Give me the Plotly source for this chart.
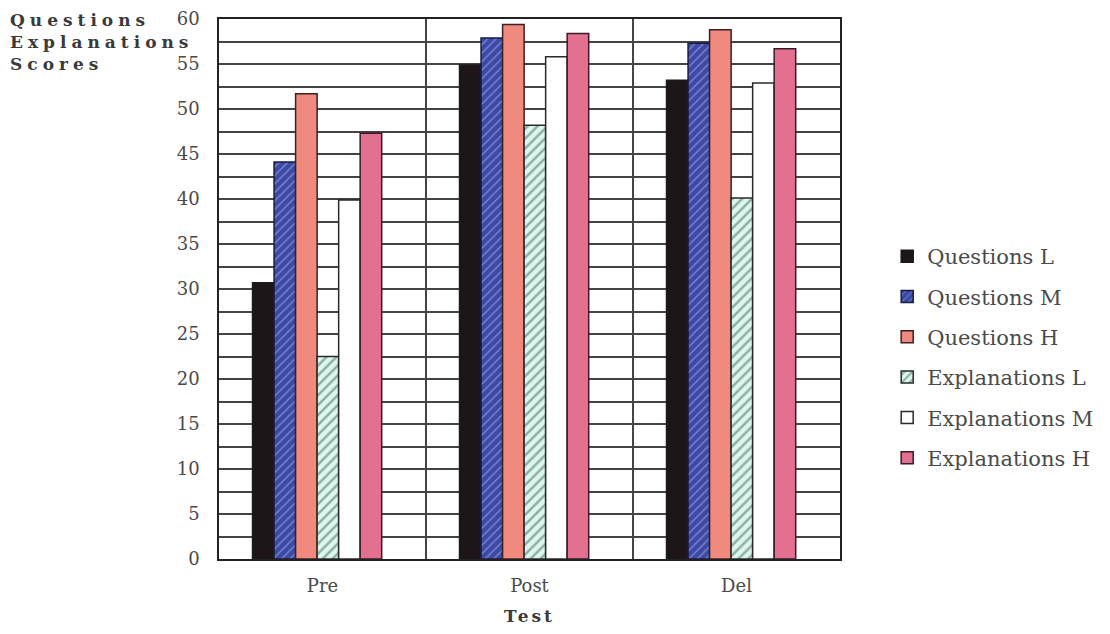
import plotly.graph_objects as go

categories = ["Pre", "Post", "Del"]
series_names = ["Questions L", "Questions M", "Questions H",
                "Explanations L", "Explanations M", "Explanations H"]
questions_l = [30.7, 54.9, 53.2]
questions_m = [44.1, 57.9, 57.3]
questions_h = [51.7, 59.4, 58.8]
explanations_l = [22.5, 48.2, 40.1]
explanations_m = [39.9, 55.8, 52.9]
explanations_h = [47.3, 58.4, 56.7]
y_ticks = [0, 5, 10, 15, 20, 25, 30, 35, 40, 45, 50, 55, 60]

values = [questions_l, questions_m, questions_h,
          explanations_l, explanations_m, explanations_h]
colors = ["#1c1618", "#3c4aa6", "#f08a7e", "#dff6ef", "#ffffff", "#e2708e"]
patterns = [
    dict(shape=""),
    dict(shape="/", fgcolor="#c8d0ff", size=6, solidity=0.2),
    dict(shape=""),
    dict(shape="/", fgcolor="#2f6a58", size=7, solidity=0.35),
    dict(shape=""),
    dict(shape=""),
]
outline = ["#1a1a1a", "#1a1a40", "#3a2020", "#2a2a2a", "#2a2a2a", "#3a1a28"]

BAR_W = 0.104          # width of each bar (category units)
GROUP_START = -0.338   # left edge of the group relative to the category centre

FONT = "DejaVu Serif"
TXT = "#4a4a4a"
fig = go.Figure()
for i, name in enumerate(series_names):
    fig.add_trace(go.Bar(
        x=categories, y=values[i], name=name,
        width=BAR_W, offset=GROUP_START + i * BAR_W,
        marker=dict(color=colors[i], pattern=patterns[i],
                    line=dict(color=outline[i], width=1.5)),
        legendgroup=name,
    ))

fig.update_layout(
    width=1094, height=618,
    margin=dict(l=211, r=262, t=11, b=67, autoexpand=False),
    paper_bgcolor="white", plot_bgcolor="white",
    barmode="overlay",
    font=dict(family=FONT, size=18, color=TXT),
    showlegend=True,
    legend=dict(x=1.076, y=0.374, xanchor="left", yanchor="middle",
                font=dict(family=FONT, size=21, color=TXT),
                tracegroupgap=10, traceorder="grouped",
                bgcolor="rgba(0,0,0,0)"),
    xaxis=dict(
        type="category", tickson="boundaries", showgrid=True,
        gridcolor="#444444", gridwidth=1.5, range=[-0.5, 2.5],
        ticks="", showline=True, linecolor="#222222", linewidth=1.5,
        mirror=True, tickfont=dict(family=FONT, size=18, color=TXT),
        ticklabelstandoff=10,
    ),
    yaxis=dict(
        range=[0, 60], tickvals=y_ticks, showgrid=True,
        gridcolor="#444444", gridwidth=1.5,
        minor=dict(dtick=2.5, showgrid=True, gridcolor="#444444", gridwidth=1.5),
        showline=True, linecolor="#222222", linewidth=1.5, mirror=True,
        ticks="", tickfont=dict(family=FONT, size=18, color=TXT),
        ticklabelstandoff=14, zeroline=False,
    ),
    annotations=[
        dict(text='<b><span style="letter-spacing:5px">Questions</span></b><br>'
                  '<b><span style="letter-spacing:5px">Explanations</span></b><br>'
                  '<b><span style="letter-spacing:5px">Scores</span></b>',
             xref="paper", yref="paper", x=-0.34, y=1.02,
             xanchor="left", yanchor="top", align="left", showarrow=False,
             font=dict(family=FONT, size=17, color="#3a3a3a")),
        dict(text='<b><span style="letter-spacing:3px">Test</span></b>',
             xref="paper", yref="paper", x=0.5, y=-0.105,
             xanchor="center", yanchor="middle", showarrow=False,
             font=dict(family=FONT, size=17, color="#3a3a3a")),
    ],
)

fig.write_html("out.html")
